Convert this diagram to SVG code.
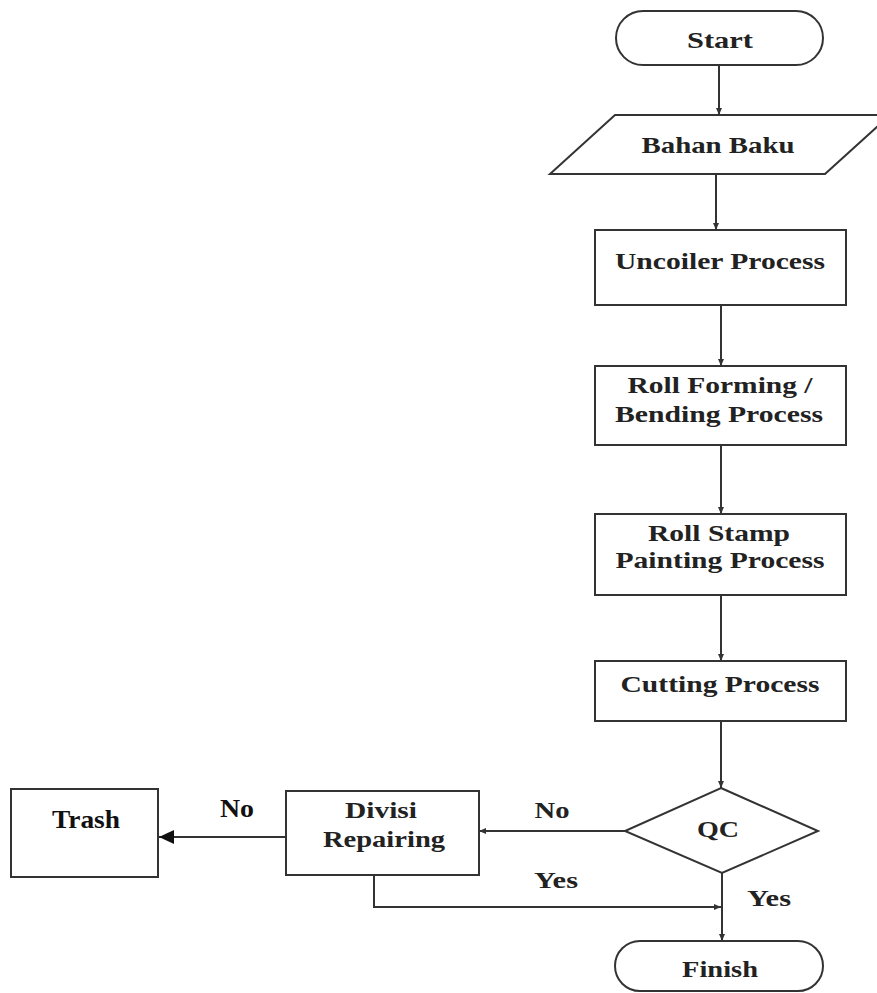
<svg xmlns="http://www.w3.org/2000/svg" width="877" height="993" viewBox="0 0 877 993">
<style>
.shape{fill:#fff;stroke:#333;stroke-width:2}
.conn{fill:none;stroke:#333;stroke-width:2}
text{font-family:"Liberation Serif","Times New Roman",serif;font-weight:bold;font-size:24px;fill:#222;text-anchor:middle}
.big{font-size:26px;fill:#111}
</style>
<defs>
<marker id="ah" markerWidth="8" markerHeight="8" refX="7" refY="4" orient="auto" markerUnits="userSpaceOnUse">
<path d="M0,1 L7,4 L0,7 Z" fill="#333"/>
</marker>
<marker id="ahBig" markerWidth="16" markerHeight="14" refX="15" refY="7" orient="auto" markerUnits="userSpaceOnUse">
<path d="M0,0 L15,7 L0,14 Z" fill="#111"/>
</marker>
</defs>
<rect width="877" height="993" fill="#fff"/>
<g id="connectors">
<line class="conn" x1="719" y1="65" x2="719" y2="115" marker-end="url(#ah)"/>
<line class="conn" x1="716" y1="174" x2="716" y2="230" marker-end="url(#ah)"/>
<line class="conn" x1="721" y1="305" x2="721" y2="366" marker-end="url(#ah)"/>
<line class="conn" x1="721" y1="445" x2="721" y2="514" marker-end="url(#ah)"/>
<line class="conn" x1="721" y1="595" x2="721" y2="661" marker-end="url(#ah)"/>
<line class="conn" x1="721" y1="721" x2="721" y2="788" marker-end="url(#ah)"/>
<line class="conn" x1="722" y1="873" x2="722" y2="941" marker-end="url(#ah)"/>
<line class="conn" x1="625" y1="831" x2="479" y2="831" marker-end="url(#ah)"/>
<line class="conn" x1="286" y1="837" x2="159" y2="837" marker-end="url(#ahBig)"/>
<polyline class="conn" points="374,875 374,907 721,907" marker-end="url(#ah)"/>
<text x="552" y="818" textLength="35" lengthAdjust="spacingAndGlyphs">No</text>
<text class="big" x="237" y="817" textLength="34" lengthAdjust="spacingAndGlyphs">No</text>
<text x="556" y="888" textLength="44" lengthAdjust="spacingAndGlyphs">Yes</text>
<text x="769" y="906" textLength="44" lengthAdjust="spacingAndGlyphs">Yes</text>
</g>
<g id="start">
<rect class="shape" x="616" y="11" width="207" height="54" rx="27"/>
<text x="720" y="48" textLength="66" lengthAdjust="spacingAndGlyphs">Start</text>
</g>
<g id="bahan-baku">
<polygon class="shape" points="615,115 890,115 825,174 550,174"/>
<text x="718" y="153" textLength="153" lengthAdjust="spacingAndGlyphs">Bahan Baku</text>
</g>
<g id="uncoiler">
<rect class="shape" x="595" y="230" width="251" height="75"/>
<text x="720" y="269" textLength="210" lengthAdjust="spacingAndGlyphs">Uncoiler Process</text>
</g>
<g id="roll-forming">
<rect class="shape" x="595" y="366" width="251" height="79"/>
<text x="720" y="393" textLength="185" lengthAdjust="spacingAndGlyphs">Roll Forming /</text>
<text x="719" y="422" textLength="208" lengthAdjust="spacingAndGlyphs">Bending Process</text>
</g>
<g id="roll-stamp">
<rect class="shape" x="595" y="514" width="251" height="81"/>
<text x="719" y="541" textLength="142" lengthAdjust="spacingAndGlyphs">Roll Stamp</text>
<text x="720" y="568" textLength="209" lengthAdjust="spacingAndGlyphs">Painting Process</text>
</g>
<g id="cutting">
<rect class="shape" x="595" y="661" width="251" height="60"/>
<text x="720" y="692" textLength="199" lengthAdjust="spacingAndGlyphs">Cutting Process</text>
</g>
<g id="qc">
<polygon class="shape" points="721,788 818,831 722,873 625,831"/>
<text x="718" y="837" textLength="42" lengthAdjust="spacingAndGlyphs">QC</text>
</g>
<g id="finish">
<rect class="shape" x="615" y="941" width="208" height="50" rx="25"/>
<text x="720" y="977" textLength="76" lengthAdjust="spacingAndGlyphs">Finish</text>
</g>
<g id="divisi-repairing">
<rect class="shape" x="286" y="791" width="193" height="84"/>
<text x="381" y="818" textLength="72" lengthAdjust="spacingAndGlyphs">Divisi</text>
<text x="384" y="847" textLength="122" lengthAdjust="spacingAndGlyphs">Repairing</text>
</g>
<g id="trash">
<rect class="shape" x="11" y="789" width="147" height="88"/>
<text class="big" x="86" y="828" textLength="68" lengthAdjust="spacingAndGlyphs">Trash</text>
</g>
</svg>
